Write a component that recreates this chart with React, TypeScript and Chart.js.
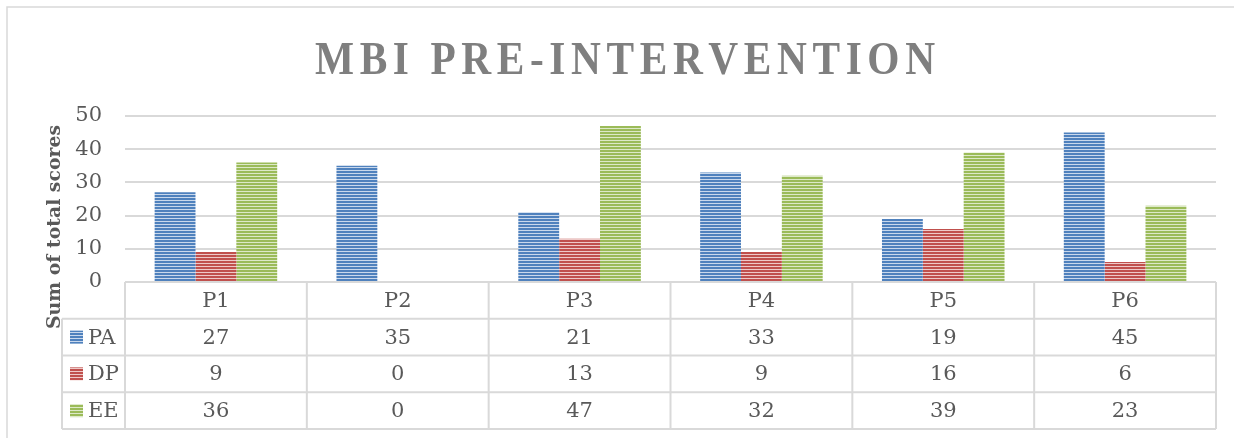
import React, { useEffect, useRef } from "react";
import { Chart, registerables } from "chart.js";

Chart.register(...registerables);

const categories = ["P1", "P2", "P3", "P4", "P5", "P6"];
const seriesNames = ["PA", "DP", "EE"];
const paValues = [27, 35, 21, 33, 19, 45];
const dpValues = [9, 0, 13, 9, 16, 6];
const eeValues = [36, 0, 47, 32, 39, 23];
const yTicks = [0, 10, 20, 30, 40, 50];
const titleText = "MBI PRE-INTERVENTION";
const yAxisTitle = "Sum of total scores";
const seriesColors = ["#4F81BD", "#C0504D", "#9BBB59"];
const stripeColors = ["#C9D8EC", "#EEC9C8", "#DDE9C8"];

const FONT = "'DejaVu Serif', 'Liberation Serif', serif";
const TITLE_FONT = "'Liberation Serif', 'DejaVu Serif', serif";
const TEXT = "#595959";
const LINE = "#D9D9D9";

function makePattern(ctx: CanvasRenderingContext2D, color: string, light: string) {
  const c = document.createElement("canvas");
  c.width = 4;
  c.height = 3;
  const p = c.getContext("2d")!;
  p.fillStyle = color;
  p.fillRect(0, 0, 4, 2);
  p.fillStyle = light;
  p.fillRect(0, 2, 4, 1);
  return ctx.createPattern(c, "repeat")!;
}

export default function App() {
  const ref = useRef<HTMLCanvasElement | null>(null);

  useEffect(() => {
    const canvas = ref.current!;
    const ctx = canvas.getContext("2d")!;
    const patterns = seriesColors.map((c, i) => makePattern(ctx, c, stripeColors[i]));
    const values = [paValues, dpValues, eeValues];

    const decor = {
      id: "decor",
      afterDraw(chart: any) {
        const g: CanvasRenderingContext2D = chart.ctx;
        const area = chart.chartArea;
        const xs = chart.scales.x;
        const n = categories.length;
        const colW = (area.right - area.left) / n;

        g.save();
        // outer frame
        g.strokeStyle = LINE;
        g.lineWidth = 1.5;
        g.strokeRect(7, 7, 1400, 600);

        // title
        g.fillStyle = "#7F7F7F";
        g.font = `bold 47px ${TITLE_FONT}`;
        g.textBaseline = "alphabetic";
        g.textAlign = "left";
        const sx = 0.88;
        const chars = titleText.split("");
        const widths = chars.map((ch) => g.measureText(ch).width * sx);
        const glyphW = widths.reduce((a, b) => a + b, 0);
        const left = 315;
        const right = 935;
        const spacing = (right - left - glyphW) / (chars.length - 1);
        let x = left;
        chars.forEach((ch, i) => {
          g.save();
          g.translate(x, 74);
          g.scale(sx, 1);
          g.fillText(ch, 0, 0);
          g.restore();
          x += widths[i] + spacing;
        });

        // y axis title
        g.save();
        g.translate(55, 227);
        g.rotate(-Math.PI / 2);
        g.font = `bold 20px ${FONT}`;
        const tw = g.measureText(yAxisTitle).width;
        const fs = (20 * 204) / tw;
        g.font = `bold ${fs}px ${FONT}`;
        g.fillStyle = TEXT;
        g.textAlign = "center";
        g.textBaseline = "middle";
        g.fillText(yAxisTitle, 0, 0);
        g.restore();

        // data table
        const rowH = 36.75;
        const top = area.bottom;
        const rows = [0, 1, 2, 3, 4].map((k) => top + k * rowH);
        const legendLeft = 62;
        g.strokeStyle = LINE;
        g.lineWidth = 2;
        g.beginPath();
        g.moveTo(area.left, rows[0]);
        g.lineTo(area.right, rows[0]);
        for (let k = 1; k < rows.length; k++) {
          g.moveTo(legendLeft, rows[k]);
          g.lineTo(area.right, rows[k]);
        }
        for (let i = 0; i <= n; i++) {
          const bx = area.left + i * colW;
          g.moveTo(bx, rows[0]);
          g.lineTo(bx, rows[4]);
        }
        g.moveTo(legendLeft, rows[1]);
        g.lineTo(legendLeft, rows[4]);
        g.stroke();

        g.font = `21px ${FONT}`;
        g.fillStyle = TEXT;
        g.textAlign = "center";
        g.textBaseline = "middle";
        categories.forEach((c, i) => {
          const cx = xs.getPixelForValue(i);
          g.fillText(c, cx, (rows[0] + rows[1]) / 2 + 1);
          values.forEach((arr, s) => {
            g.fillText(String(arr[i]), cx, (rows[s + 1] + rows[s + 2]) / 2 + 1);
          });
        });

        seriesNames.forEach((name, s) => {
          const cy = (rows[s + 1] + rows[s + 2]) / 2;
          g.fillStyle = patterns[s];
          g.fillRect(70, cy - 6.5, 13, 13);
          g.fillStyle = TEXT;
          g.textAlign = "left";
          g.fillText(name, 88, cy + 1);
        });
        g.restore();
      },
    };

    const chart = new Chart(canvas, {
      type: "bar",
      data: {
        labels: categories,
        datasets: seriesNames.map((name, s) => ({
          label: name,
          data: values[s],
          backgroundColor: patterns[s],
          borderWidth: 0,
          categoryPercentage: 0.674,
          barPercentage: 1,
        })),
      },
      options: {
        responsive: false,
        animation: false,
        devicePixelRatio: 1,
        layout: { padding: { top: 116, right: 18, bottom: 156, left: 0 } },
        plugins: {
          legend: { display: false },
          title: { display: false },
          tooltip: { enabled: false },
        },
        scales: {
          x: { display: false },
          y: {
            min: 0,
            max: 50,
            afterFit: (scale: any) => {
              scale.width = 125;
            },
            afterBuildTicks: (scale: any) => {
              scale.ticks = yTicks.map((v) => ({ value: v }));
            },
            ticks: {
              color: TEXT,
              font: { family: FONT, size: 21 },
              padding: 23,
            },
            grid: { color: LINE, lineWidth: 2, drawTicks: false },
            border: { display: false },
          },
        },
      },
      plugins: [decor],
    });
    return () => chart.destroy();
  }, []);

  return (
    <div style={{ position: "fixed", left: 0, top: 0, width: 1234, height: 438, background: "#fff" }}>
      <canvas ref={ref} width={1234} height={438} />
    </div>
  );
}
